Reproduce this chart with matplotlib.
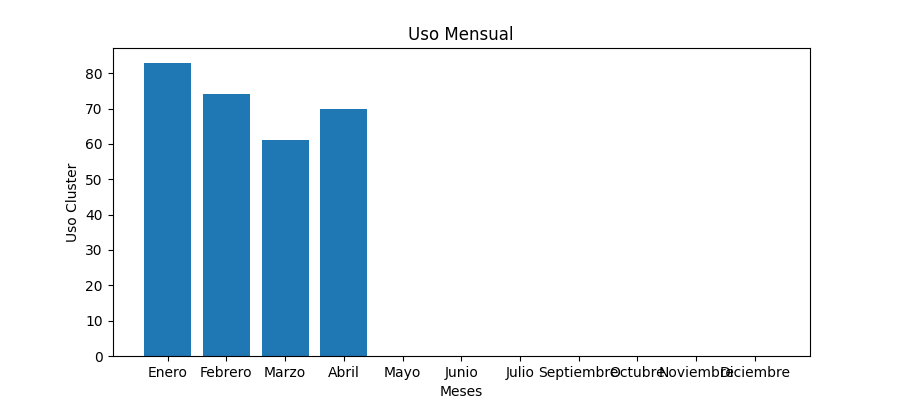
import matplotlib
matplotlib.use("Agg")
import matplotlib.pyplot as plt

meses = ["Enero", "Febrero", "Marzo", "Abril", "Mayo", "Junio", "Julio",
         "Septiembre", "Octubre", "Noviembre", "Diciembre"]
uso = [83, 74, 61, 70, 0, 0, 0, 0, 0, 0, 0]

fig, ax = plt.subplots(figsize=(9, 4), dpi=100)
ax.bar(meses, uso)
ax.set_title("Uso Mensual")
ax.set_xlabel("Meses")
ax.set_ylabel("Uso Cluster")
fig.savefig("out.png")
